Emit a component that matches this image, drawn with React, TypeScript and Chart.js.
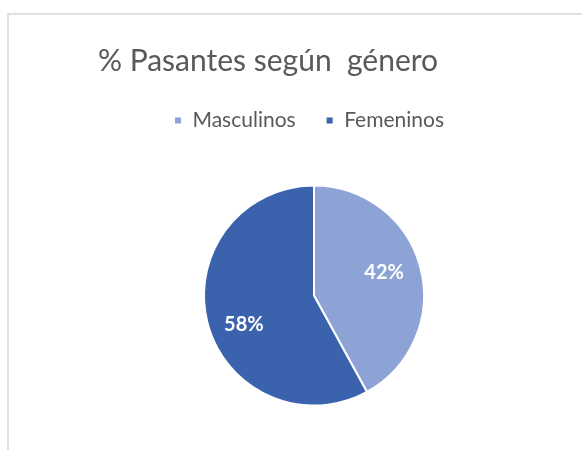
import React, { useEffect, useRef } from "react";
import { Chart, registerables } from "chart.js";

Chart.register(...registerables);

const titleText = "% Pasantes según  género";
const categories = ["Masculinos", "Femeninos"];
const values = [42, 58];
const colors = ["#8DA3D5", "#3A62AD"];

const FONT = "Lato, 'Open Sans', sans-serif";

const titlePlugin = {
  id: "customTitle",
  afterDraw(chart: any) {
    const ctx = chart.ctx;
    ctx.save();
    ctx.font = `30px ${FONT}`;
    ctx.fillStyle = "#595959";
    ctx.textAlign = "center";
    ctx.textBaseline = "alphabetic";
    ctx.fillText(titleText, 268, 71);
    ctx.restore();
  },
};

const legendShift = {
  id: "legendShift",
  afterLayout(chart: any) {
    const lg = chart.legend;
    if (lg) {
      lg.left -= 5;
      lg.right -= 5;
    }
  },
};

const labelPlugin = {
  id: "sliceLabels",
  afterDatasetsDraw(chart: any) {
    const ctx = chart.ctx;
    const meta = chart.getDatasetMeta(0);
    const total = values.reduce((a, b) => a + b, 0);
    ctx.save();
    ctx.font = `bold 20px ${FONT}`;
    ctx.fillStyle = "#ffffff";
    ctx.textAlign = "center";
    ctx.textBaseline = "middle";
    meta.data.forEach((arc: any, i: number) => {
      const p = arc.getProps(["x", "y", "startAngle", "endAngle", "outerRadius"], true);
      const mid = (p.startAngle + p.endAngle) / 2 - (6 * Math.PI) / 180;
      const r = p.outerRadius * 0.68;
      const x = p.x + Math.cos(mid) * r;
      const y = p.y + Math.sin(mid) * r + 3;
      ctx.fillText(`${Math.round((values[i] / total) * 100)}%`, x, y);
    });
    ctx.restore();
  },
};

export default function App() {
  const ref = useRef<HTMLCanvasElement>(null);
  useEffect(() => {
    if (!ref.current) return;
    const chart = new Chart(ref.current, {
      type: "pie",
      data: {
        labels: categories,
        datasets: [
          {
            data: values,
            backgroundColor: colors,
            borderColor: "#ffffff",
            borderWidth: 2,
            radius: 110,
          },
        ],
      },
      options: {
        responsive: false,
        animation: false,
        layout: { padding: { top: 80, left: 46, right: 0, bottom: 0 } },
        plugins: {
          title: { display: false },
          tooltip: { enabled: false },
          legend: {
            display: true,
            position: "top",
            labels: {
              boxWidth: 8,
              boxHeight: 8,
              padding: 30,
              color: "#595959",
              font: { family: FONT, size: 21 },
            },
          },
        },
      },
      plugins: [titlePlugin, labelPlugin, legendShift],
    });
    return () => chart.destroy();
  }, []);
  return (
    <div
      style={{
        position: "fixed",
        left: 0,
        top: 0,
        width: 582,
        height: 450,
        background: "#ffffff",
        overflow: "hidden",
      }}
    >
      <canvas
        ref={ref}
        width={582}
        height={450}
        style={{ position: "absolute", left: 0, top: 0, width: 582, height: 450 }}
      />
      <div
        style={{
          position: "absolute",
          left: 7,
          top: 13,
          width: 600,
          height: 460,
          borderLeft: "2px solid #e0e0e0",
          borderTop: "2px solid #e0e0e0",
          pointerEvents: "none",
        }}
      />
    </div>
  );
}
